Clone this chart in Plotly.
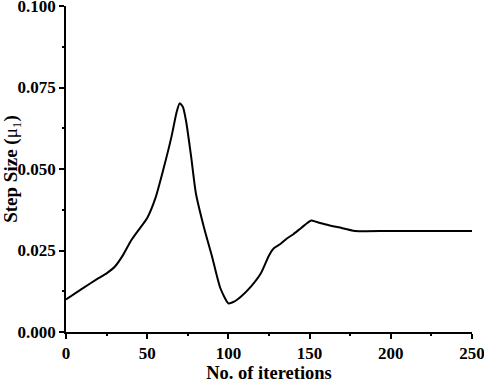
import plotly.graph_objects as go

iterations = [0, 10, 20, 25, 30, 35, 40, 45, 50, 55, 60, 65, 68, 70, 72, 74, 77, 80, 85, 90, 95, 100,
              103, 108, 114, 120, 125, 128, 132, 136, 140, 145, 151, 154, 160, 168, 178, 200, 250]
step_size = [0.010, 0.0133, 0.0165, 0.018, 0.020, 0.0235, 0.028, 0.0315, 0.035, 0.041, 0.050,
             0.060, 0.0672, 0.0702, 0.069, 0.0645, 0.054, 0.0425, 0.032, 0.023, 0.0135, 0.0088,
             0.0092, 0.011, 0.014, 0.018, 0.0235, 0.0257, 0.027, 0.0287, 0.030, 0.032, 0.0342,
             0.0338, 0.033, 0.0321, 0.031, 0.031, 0.031]

x_ticks = [0, 50, 100, 150, 200, 250]
y_ticks = [0.000, 0.025, 0.050, 0.075, 0.100]
y_tick_labels = ["0.000", "0.025", "0.050", "0.075", "0.100"]

font_family = "Liberation Serif, Times New Roman, serif"

fig = go.Figure(go.Scatter(
    x=iterations, y=step_size, mode="lines",
    line=dict(color="black", width=2, shape="spline", smoothing=0.6),
    showlegend=False, hoverinfo="skip"))

axis_common = dict(
    showline=True, linecolor="black", linewidth=1.6, mirror=False,
    ticks="outside", ticklen=5, tickwidth=1.5, tickcolor="black",
    showgrid=False, zeroline=False, automargin=False, ticklabeloverflow="allow",
    tickfont=dict(family=font_family, size=17, color="black", weight="bold"),
)

fig.update_xaxes(range=[0, 250], tickvals=x_ticks,
                 minor=dict(dtick=25, ticks="outside", ticklen=2.5, tickwidth=1.5, tickcolor="black"),
                 title=dict(text="No. of iteretions", standoff=8,
                            font=dict(family=font_family, size=18.5, color="black", weight="bold")),
                 **axis_common)
fig.update_yaxes(range=[0, 0.100], tickvals=y_ticks, ticktext=y_tick_labels,
                 minor=dict(dtick=0.0125, ticks="outside", ticklen=2.5, tickwidth=1.5, tickcolor="black"),
                 title=dict(text="Step Size (<span style='font-weight:normal'>\u03bc<sub>1</sub></span>)", standoff=2,
                            font=dict(family=font_family, size=19, color="black", weight="bold")),
                 **axis_common)

fig.update_layout(
    width=484, height=383,
    margin=dict(l=66, r=12, t=6, b=51, autoexpand=False),
    paper_bgcolor="white", plot_bgcolor="white",
)

fig.write_html("out.html", config={"displayModeBar": False},
               post_script="document.body.style.margin='0';")
